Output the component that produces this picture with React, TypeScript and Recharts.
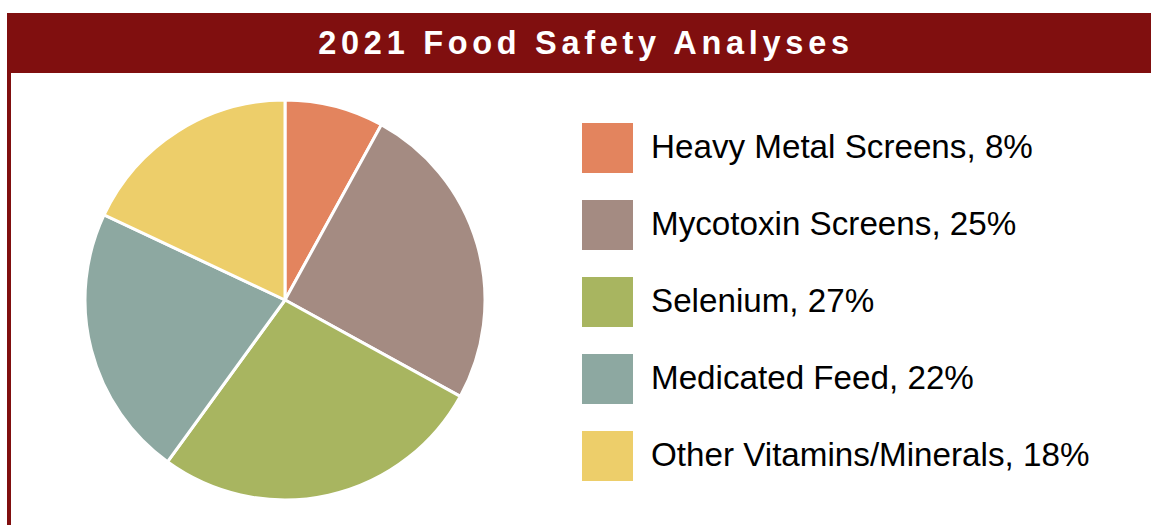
import React from "react";
import { PieChart, Pie, Cell, Legend } from "recharts";

const categories = [
  "Heavy Metal Screens",
  "Mycotoxin Screens",
  "Selenium",
  "Medicated Feed",
  "Other Vitamins/Minerals",
];
const shares = [8, 25, 27, 22, 18];
const colors = ["#E3845E", "#A48B82", "#A8B560", "#8DA8A1", "#EDCE6A"];
const title = "2021 Food Safety Analyses";

const data = categories.map((name, i) => ({ name, value: shares[i] }));

const renderLegend = (props: any) => {
  const payload = [...(props.payload || [])].sort(
    (a: any, b: any) => categories.indexOf(a.value) - categories.indexOf(b.value)
  );
  return (
    <div>
      {payload.map((entry: any) => {
        const idx = categories.indexOf(entry.value);
        return (
          <div
            key={entry.value}
            style={{
              display: "flex",
              alignItems: "center",
              height: 77,
            }}
          >
            <div
              style={{
                width: 51,
                height: 50,
                background: colors[idx],
                marginRight: 18,
                flexShrink: 0,
              }}
            />
            <span
              style={{
                fontFamily: "'Liberation Sans', Arial, sans-serif",
                fontSize: 33.2,
                color: "#000",
                whiteSpace: "nowrap",
                marginTop: -3,
              }}
            >
              {entry.value}, {shares[idx]}%
            </span>
          </div>
        );
      })}
    </div>
  );
};

export default function App() {
  return (
    <div
      style={{
        position: "absolute",
        left: 0,
        top: 0,
        width: 1151,
        height: 525,
        background: "#fff",
        overflow: "hidden",
      }}
    >
      <div
        style={{
          position: "absolute",
          left: 7,
          top: 13,
          width: 1151 - 7,
          height: 60,
          background: "#800F0F",
          color: "#fff",
          fontFamily: "'Liberation Sans', Arial, sans-serif",
          fontWeight: "bold",
          fontSize: 32.5,
          letterSpacing: 4.7,
          lineHeight: "60px",
          textAlign: "center",
          paddingLeft: 14,
          boxSizing: "border-box",
          whiteSpace: "nowrap",
        }}
      >
        {title}
      </div>
      <div
        style={{
          position: "absolute",
          left: 7,
          top: 73,
          width: 4,
          height: 525 - 73,
          background: "#800F0F",
        }}
      />
      <div style={{ position: "absolute", left: 0, top: 0 }}>
        <PieChart width={1151} height={525} margin={{ top: 0, right: 0, bottom: 0, left: 0 }}>
          <Pie
            data={data}
            dataKey="value"
            nameKey="name"
            cx={285}
            cy={300}
            outerRadius={200}
            innerRadius={0}
            startAngle={90}
            endAngle={-270}
            stroke="#ffffff"
            strokeWidth={3}
            isAnimationActive={false}
            legendType="square"
          >
            {data.map((d, i) => (
              <Cell key={d.name} fill={colors[i]} />
            ))}
          </Pie>
          <Legend
            layout="horizontal"
            align="center"
            verticalAlign="middle"
            content={renderLegend}
            wrapperStyle={{ left: 582, top: 109.5, width: 565, bottom: "auto", right: "auto" }}
          />
        </PieChart>
      </div>
    </div>
  );
}
